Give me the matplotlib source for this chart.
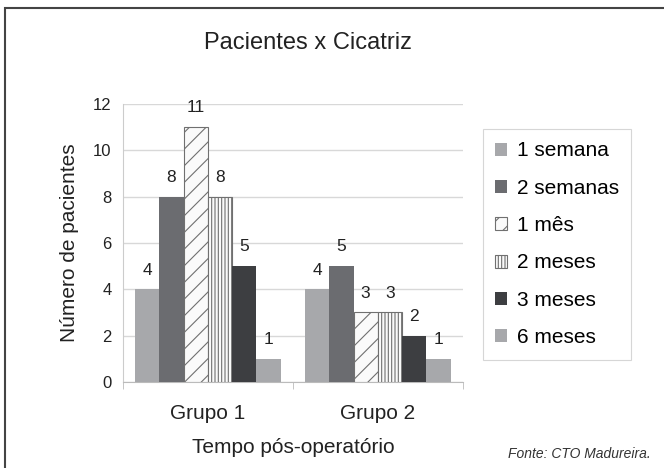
import matplotlib.pyplot as plt
import matplotlib.patches as mpatches
import numpy as np

plt.rcParams['font.family'] = ['Liberation Sans', 'DejaVu Sans']
plt.rcParams['hatch.linewidth'] = 0.8

grupos = ['Grupo 1', 'Grupo 2']
series = ['1 semana', '2 semanas', '1 mês', '2 meses', '3 meses', '6 meses']
valores = [
    [4, 4],
    [8, 5],
    [11, 3],
    [8, 3],
    [5, 2],
    [1, 1],
]
cores = ['#a7a8ab', '#6b6c70', '#fafafa', '#fafafa', '#3d3e41', '#a7a8ab']
hachuras = [None, None, '//', '|||||', None, None]
bordas = [None, None, '#707070', '#707070', None, None]

fig = plt.figure(figsize=(6.64, 4.68), dpi=100)
ax = fig.add_axes([0.185, 0.184, 0.512, 0.594])

x = np.arange(len(grupos))
w = 0.143
for i, (s, v) in enumerate(zip(series, valores)):
    pos = x + (i - 2.5) * w
    ec = bordas[i] if bordas[i] else cores[i]
    bars = ax.bar(pos, v, w, color=cores[i], hatch=hachuras[i], edgecolor=ec,
                  linewidth=0.8 if bordas[i] else 0, label=s, zorder=3)
    for b, val in zip(bars, v):
        ax.text(b.get_x() + b.get_width() / 2, val + 0.5, str(val),
                ha='center', va='bottom', fontsize=12.5, color='#222222')

ax.set_xlim(-0.5, 1.5)
ax.set_ylim(0, 12)
ax.set_yticks(range(0, 13, 2))
ax.set_xticks(x)
ax.set_xticklabels(grupos, fontsize=15, color='#222222')
ax.set_xticks([-0.5, 0.5, 1.5], minor=True)
ax.tick_params(axis='x', which='major', length=0, pad=16)
ax.tick_params(axis='x', which='minor', length=5, color='#bbbbbb')
ax.tick_params(axis='y', length=0, labelsize=12, labelcolor='#222222', pad=8)
ax.grid(axis='y', color='#d8d8d8', linewidth=1, zorder=0)
for sp in ['top', 'right']:
    ax.spines[sp].set_visible(False)
ax.spines['left'].set_color('#cccccc')
ax.spines['bottom'].set_color('#bbbbbb')

ax.set_ylabel('Número de pacientes', fontsize=15, color='#222222', labelpad=10)
ax.set_xlabel('Tempo pós-operatório', fontsize=15, color='#222222', labelpad=11)

leg = ax.legend(loc='upper left', bbox_to_anchor=(1.059, 0.91), fontsize=15,
                frameon=True, fancybox=False, edgecolor='#cccccc',
                handlelength=0.58, handleheight=0.58, handletextpad=0.45,
                labelspacing=0.88, borderpad=0.6, borderaxespad=0)
leg.get_frame().set_linewidth(0.8)

fig.text(0.464, 0.908, 'Pacientes x Cicatriz', ha='center', va='center',
         fontsize=17, color='#222222')
fig.text(0.873, 0.029, 'Fonte: CTO Madureira.', ha='center', va='center',
         fontsize=10, style='italic', color='#333333')

fig.patches.append(mpatches.Rectangle((5 / 664, -0.05), 1.0, 1 - 8 / 468 + 0.05,
                                      transform=fig.transFigure, fill=False,
                                      edgecolor='#444444', linewidth=1.5))

fig.savefig('out.png', dpi=100)
